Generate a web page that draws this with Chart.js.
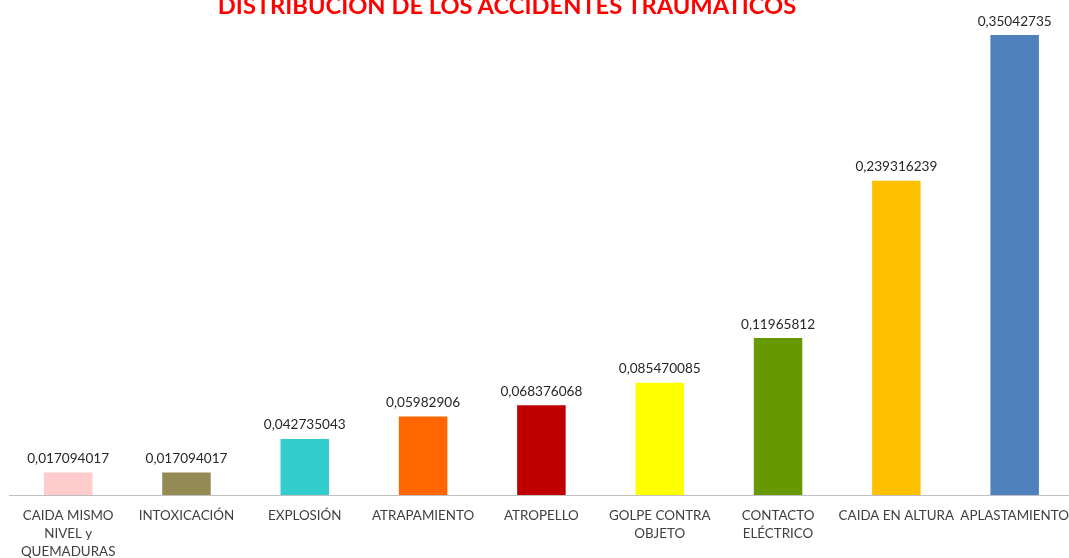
<!DOCTYPE html>
<html>
<head>
<meta charset="utf-8">
<script src="https://cdn.jsdelivr.net/npm/chart.js@4"></script>
<style>
  html, body { margin: 0; padding: 0; background: #fff; overflow: hidden; }
  #wrap { position: relative; width: 1069px; height: 558px; overflow: hidden; }
  #chart { position: absolute; left: 0; top: 0; }
  #title {
    position: absolute; left: 0; width: 1014px; top: -9px; text-align: center;
    font: bold 23.7px Lato, sans-serif; color: #ff0000; white-space: nowrap;
  }
</style>
</head>
<body>
<div id="wrap">
  <canvas id="chart" width="1081" height="558"></canvas>
  <div id="title">DISTRIBUCIÓN DE LOS ACCIDENTES TRAUMÁTICOS</div>
</div>
<script>
const categories = [
  ['CAIDA MISMO', 'NIVEL y', 'QUEMADURAS'],
  'INTOXICACIÓN',
  'EXPLOSIÓN',
  'ATRAPAMIENTO',
  'ATROPELLO',
  ['GOLPE CONTRA', 'OBJETO'],
  ['CONTACTO', 'ELÉCTRICO'],
  'CAIDA EN ALTURA',
  'APLASTAMIENTO',
];
const values = [0.017094017, 0.017094017, 0.042735043, 0.05982906, 0.068376068, 0.085470085, 0.11965812, 0.239316239, 0.35042735];
const colors = ['#ffcccc', '#948a54', '#33cccc', '#ff6600', '#c00000', '#ffff00', '#669900', '#ffc000', '#4f81bd'];

const valueLabels = {
  id: 'valueLabels',
  afterDatasetsDraw(chart) {
    const { ctx } = chart;
    const meta = chart.getDatasetMeta(0);
    ctx.save();
    ctx.font = '13.6px Lato, sans-serif';
    ctx.fillStyle = '#262626';
    ctx.textAlign = 'center';
    ctx.textBaseline = 'bottom';
    meta.data.forEach((bar, i) => {
      ctx.fillText(String(values[i]).replace('.', ','), bar.x, bar.y - 7);
    });
    ctx.restore();
  },
};

new Chart(document.getElementById('chart'), {
  type: 'bar',
  data: {
    labels: categories,
    datasets: [{ data: values, backgroundColor: colors, barPercentage: 0.41, categoryPercentage: 1 }],
  },
  options: {
    responsive: false,
    animation: false,
    layout: { padding: { left: 9, right: 0, top: 0, bottom: 0 } },
    plugins: { legend: { display: false }, tooltip: { enabled: false } },
    scales: {
      x: {
        grid: { display: false, drawTicks: false },
        border: { color: '#bfbfbf', width: 1 },
        ticks: { color: '#404040', font: { family: 'Lato, sans-serif', size: 13.4, lineHeight: 1.33 }, padding: 12, maxRotation: 0, autoSkip: false },
        afterFit(scale) { scale.height = 63; },
      },
      y: { display: false, min: 0, max: 0.3771 },
    },
  },
  plugins: [valueLabels],
});
</script>
</body>
</html>
